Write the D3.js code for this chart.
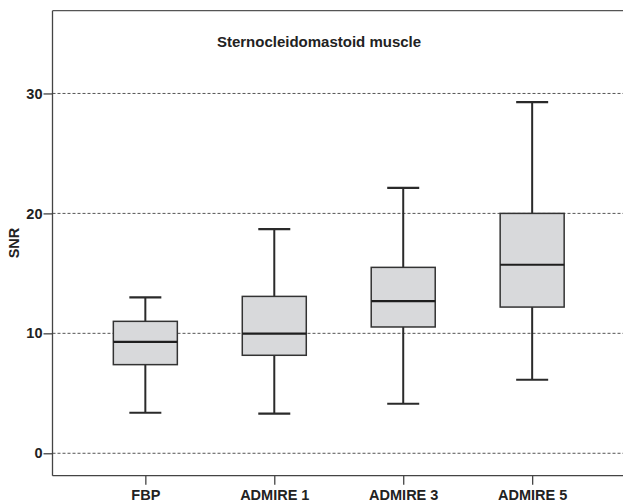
<!DOCTYPE html>
<html><head><meta charset="utf-8">
<script src="https://cdn.jsdelivr.net/npm/d3@7"></script>
<style>body{margin:0;background:#fff}svg{display:block}text{font-family:"Liberation Sans",Arial,sans-serif;font-weight:bold;fill:#222}</style>
</head><body>
<svg id="c" width="623" height="502"></svg>
<script>
const categories = ["FBP","ADMIRE 1","ADMIRE 3","ADMIRE 5"];
const whiskerLow  = [3.38, 3.3, 4.13, 6.13];
const q1          = [7.39, 8.17, 10.53, 12.19];
const median      = [9.28, 9.97, 12.69, 15.72];
const q3          = [11.0, 13.08, 15.5, 20.0];
const whiskerHigh = [13.0, 18.69, 22.13, 29.27];
const yTicks = [0,10,20,30];
const title = "Sternocleidomastoid muscle";
const yTitle = "SNR";

const data = categories.map((c,i)=>({c, lo:whiskerLow[i], q1:q1[i], med:median[i], q3:q3[i], hi:whiskerHigh[i]}));
const svg = d3.select("#c");
const L = 52.5, R = 625, T = 10.7, B = 475.7;
const y = d3.scaleLinear().domain([-1.87, 36.9]).range([B, T]);
const x = d3.scalePoint().domain(categories).range([L, R]).padding(0.72);

// gridlines
svg.append("g").selectAll("line").data(yTicks).join("line")
  .attr("x1", L).attr("x2", 623).attr("y1", d=>y(d)).attr("y2", d=>y(d))
  .attr("stroke", "#555").attr("stroke-width", 1).attr("stroke-dasharray", "3,2");

// top border
svg.append("line").attr("x1", L).attr("x2", 623).attr("y1", T).attr("y2", T)
  .attr("stroke", "#555").attr("stroke-width", 1.3);

// axes
const ya = svg.append("g").attr("transform", `translate(${L},0)`)
  .call(d3.axisLeft(y).tickValues(yTicks).tickSize(9).tickPadding(1));
ya.select(".domain").attr("d", `M0,${T}V${B}`);
const xa = svg.append("g").attr("transform", `translate(0,${B})`)
  .call(d3.axisBottom(x).tickSize(9).tickPadding(5.5));
xa.select(".domain").attr("d", `M${L},0H623`);
svg.selectAll(".domain").attr("stroke", "#444").attr("stroke-width", 1.3);
svg.selectAll(".tick line").attr("stroke", "#444").attr("stroke-width", 1.3);
svg.selectAll(".tick text").attr("font-size", 14.5).attr("font-family", "Liberation Sans, Arial, sans-serif").attr("font-weight","bold").attr("fill", "#222");

const bw = 64, cw = 32;
const g = svg.append("g").selectAll("g").data(data).join("g");
// whiskers
g.append("line").attr("x1", d=>x(d.c)).attr("x2", d=>x(d.c))
  .attr("y1", d=>y(d.lo)).attr("y2", d=>y(d.hi)).attr("stroke", "#2a2a2a").attr("stroke-width", 2);
g.append("line").attr("x1", d=>x(d.c)-cw/2).attr("x2", d=>x(d.c)+cw/2)
  .attr("y1", d=>y(d.lo)).attr("y2", d=>y(d.lo)).attr("stroke", "#2a2a2a").attr("stroke-width", 2.2);
g.append("line").attr("x1", d=>x(d.c)-cw/2).attr("x2", d=>x(d.c)+cw/2)
  .attr("y1", d=>y(d.hi)).attr("y2", d=>y(d.hi)).attr("stroke", "#2a2a2a").attr("stroke-width", 2.2);
// box
g.append("rect").attr("x", d=>x(d.c)-bw/2).attr("width", bw)
  .attr("y", d=>y(d.q3)).attr("height", d=>y(d.q1)-y(d.q3))
  .attr("fill", "#d8d9db").attr("stroke", "#333").attr("stroke-width", 1.5);
g.append("line").attr("x1", d=>x(d.c)-bw/2).attr("x2", d=>x(d.c)+bw/2)
  .attr("y1", d=>y(d.med)).attr("y2", d=>y(d.med)).attr("stroke", "#1e1e1e").attr("stroke-width", 2.2);

svg.append("text").attr("x", 319).attr("y", 47).attr("text-anchor", "middle")
  .attr("font-size", 15).text(title);
svg.append("text").attr("transform", `translate(18.5,243) rotate(-90)`).attr("text-anchor", "middle")
  .attr("font-size", 14.5).text(yTitle);
</script>
</body></html>
